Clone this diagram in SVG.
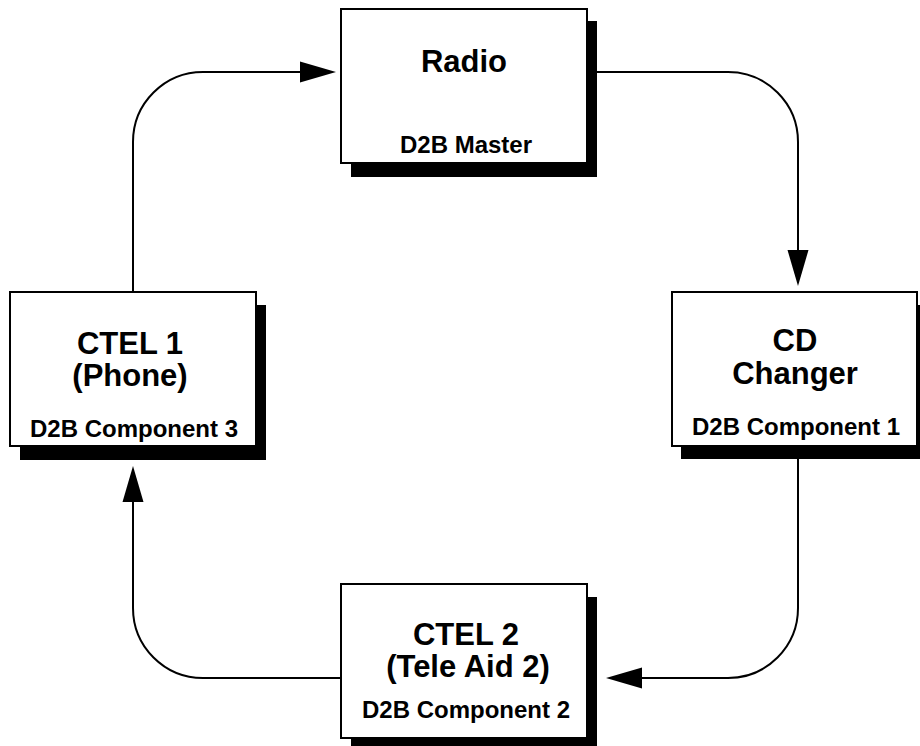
<svg xmlns="http://www.w3.org/2000/svg" width="920" height="746" viewBox="0 0 920 746">
<style>
.box{fill:#fff;stroke:#000;stroke-width:2}
.shadow{fill:#000}
.conn{fill:none;stroke:#000;stroke-width:2}
.t{font-family:"Liberation Sans",Arial,Helvetica,sans-serif;font-weight:bold;fill:#000;text-anchor:middle}
.title{font-size:31px}
.sub{font-size:24px}
</style>
<defs>
<marker id="arrow" markerUnits="userSpaceOnUse" markerWidth="36" markerHeight="22" refX="0" refY="10.5" orient="auto" overflow="visible">
<path d="M0,0 L36,10.5 L0,21 Z" fill="#000"/>
</marker>
</defs>
<rect width="920" height="746" fill="#fff"/>
<g id="connectors">
<path class="conn" d="M133,292 V142 A70,70 0 0 1 203,72 H300" marker-end="url(#arrow)"/>
<path class="conn" d="M587,72 H728 A70,70 0 0 1 798,142 V250" marker-end="url(#arrow)"/>
<path class="conn" d="M798,446 V608 A70,70 0 0 1 728,678 H642" marker-end="url(#arrow)"/>
<path class="conn" d="M341,678 H203 A70,70 0 0 1 133,608 V502" marker-end="url(#arrow)"/>
</g>
<g id="radio">
<rect class="shadow" x="351" y="21" width="246" height="156"/>
<rect class="box" x="341" y="9" width="246" height="154"/>
<text class="t title" x="464" y="72">Radio</text>
<text class="t sub" x="466" y="153">D2B Master</text>
</g>
<g id="ctel1">
<rect class="shadow" x="20" y="305" width="246" height="155"/>
<rect class="box" x="10" y="292" width="246" height="154"/>
<text class="t title" x="130" y="354">CTEL 1</text>
<text class="t title" x="130" y="386">(Phone)</text>
<text class="t sub" x="134" y="437">D2B Component 3</text>
</g>
<g id="cdchanger">
<rect class="shadow" x="681" y="305" width="246" height="154"/>
<rect class="box" x="672" y="292" width="245" height="154"/>
<text class="t title" x="795" y="351">CD</text>
<text class="t title" x="795" y="384">Changer</text>
<text class="t sub" x="796" y="435">D2B Component 1</text>
</g>
<g id="ctel2">
<rect class="shadow" x="351" y="597" width="246" height="154"/>
<rect class="box" x="341" y="584" width="246" height="154"/>
<text class="t title" x="466" y="645">CTEL 2</text>
<text class="t title" x="468" y="677">(Tele Aid 2)</text>
<text class="t sub" x="466" y="718">D2B Component 2</text>
</g>
</svg>
